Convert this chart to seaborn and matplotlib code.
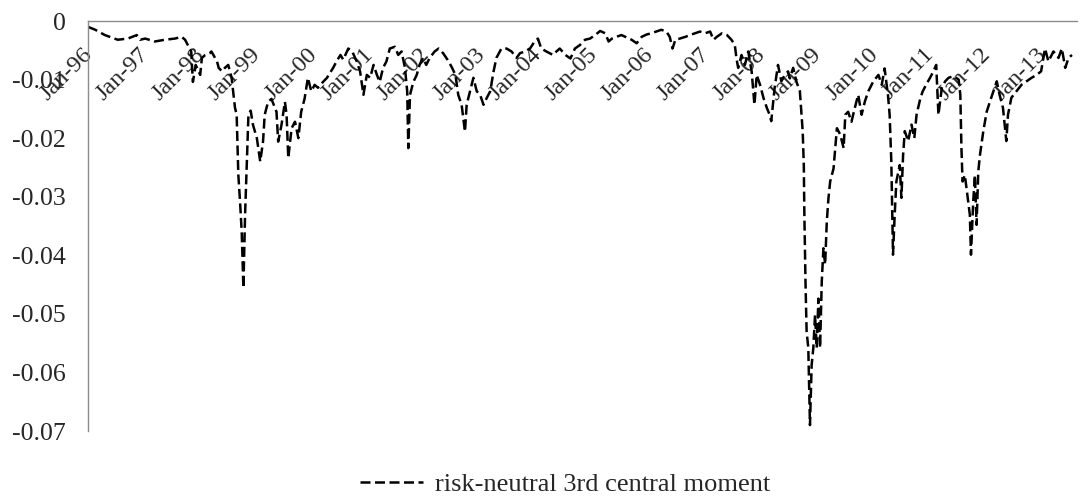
import matplotlib
matplotlib.use("Agg")
import matplotlib.pyplot as plt
import matplotlib.transforms as mtransforms
import seaborn as sns
import pandas as pd

# decimal year of each observation (1996.0 = Jan-96)
year_frac = [
    1996.00, 1996.13, 1996.30, 1996.53, 1996.71, 1996.87, 1996.93, 1997.02, 1997.19, 1997.37,
    1997.55, 1997.67, 1997.73, 1997.78, 1997.84, 1997.87, 1997.92, 1998.00, 1998.03, 1998.09,
    1998.17, 1998.20, 1998.30, 1998.33, 1998.39, 1998.44, 1998.50, 1998.56, 1998.62, 1998.65,
    1998.68, 1998.71, 1998.74, 1998.77, 1998.80, 1998.83, 1998.86, 1998.90, 1998.94, 1999.01,
    1999.07, 1999.12, 1999.15, 1999.21, 1999.27, 1999.36, 1999.39, 1999.45, 1999.51, 1999.54,
    1999.57, 1999.63, 1999.69, 1999.75, 1999.80, 1999.86, 1999.92, 1999.98, 2000.04, 2000.10,
    2000.14, 2000.26, 2000.37, 2000.43, 2000.50, 2000.55, 2000.64, 2000.71, 2000.79, 2000.85,
    2000.91, 2000.97, 2001.03, 2001.09, 2001.15, 2001.20, 2001.26, 2001.32, 2001.38, 2001.47,
    2001.53, 2001.59, 2001.65, 2001.69, 2001.71, 2001.74, 2001.80, 2001.86, 2001.91, 2001.97,
    2002.03, 2002.09, 2002.18, 2002.25, 2002.33, 2002.43, 2002.49, 2002.55, 2002.60, 2002.66,
    2002.72, 2002.75, 2002.81, 2002.87, 2002.93, 2002.99, 2003.05, 2003.11, 2003.17, 2003.23,
    2003.28, 2003.37, 2003.46, 2003.55, 2003.64, 2003.70, 2003.79, 2003.88, 2003.96, 2004.02,
    2004.08, 2004.17, 2004.29, 2004.35, 2004.41, 2004.51, 2004.60, 2004.68, 2004.77, 2004.86,
    2004.95, 2005.04, 2005.13, 2005.22, 2005.28, 2005.34, 2005.42, 2005.51, 2005.60, 2005.69,
    2005.78, 2005.87, 2005.96, 2006.04, 2006.13, 2006.22, 2006.31, 2006.37, 2006.42, 2006.47,
    2006.55, 2006.65, 2006.73, 2006.82, 2006.91, 2007.00, 2007.09, 2007.15, 2007.21, 2007.30,
    2007.39, 2007.47, 2007.53, 2007.56, 2007.59, 2007.62, 2007.65, 2007.71, 2007.77, 2007.83,
    2007.88, 2007.92, 2007.98, 2008.04, 2008.10, 2008.15, 2008.18, 2008.24, 2008.30, 2008.36,
    2008.42, 2008.48, 2008.51, 2008.57, 2008.63, 2008.69, 2008.72, 2008.74, 2008.76, 2008.77,
    2008.79, 2008.81, 2008.84, 2008.87, 2008.90, 2008.93, 2008.96, 2008.99, 2009.02, 2009.05,
    2009.08, 2009.11, 2009.14, 2009.17, 2009.20, 2009.23, 2009.26, 2009.29, 2009.32, 2009.35,
    2009.41, 2009.47, 2009.50, 2009.55, 2009.61, 2009.67, 2009.73, 2009.79, 2009.85, 2009.91,
    2010.00, 2010.09, 2010.15, 2010.20, 2010.26, 2010.29, 2010.32, 2010.35, 2010.38, 2010.41,
    2010.47, 2010.50, 2010.53, 2010.56, 2010.62, 2010.68, 2010.73, 2010.77, 2010.84, 2010.88,
    2010.94, 2011.01, 2011.07, 2011.12, 2011.16, 2011.22, 2011.28, 2011.34, 2011.43, 2011.52,
    2011.55, 2011.57, 2011.59, 2011.63, 2011.66, 2011.72, 2011.74, 2011.78, 2011.81, 2011.84,
    2011.87, 2011.90, 2011.96, 2012.02, 2012.08, 2012.14, 2012.20, 2012.25, 2012.31, 2012.37,
    2012.40, 2012.46, 2012.55, 2012.64, 2012.73, 2012.82, 2012.91, 2012.99, 2013.06, 2013.12,
    2013.21, 2013.30, 2013.36, 2013.42, 2013.48, 2013.54,
]

third_moment = [
    -0.0010, -0.0015, -0.0024, -0.0032, -0.0030, -0.0024, -0.0032, -0.0030, -0.0035, -0.0032,
    -0.0030, -0.0027, -0.0032, -0.0041, -0.0052, -0.0104, -0.0075, -0.0092, -0.0063, -0.0058,
    -0.0055, -0.0052, -0.0069, -0.0080, -0.0086, -0.0080, -0.0075, -0.0097, -0.0148, -0.0160,
    -0.0263, -0.0308, -0.0360, -0.0456, -0.0331, -0.0246, -0.0160, -0.0153, -0.0177, -0.0200,
    -0.0240, -0.0206, -0.0160, -0.0138, -0.0133, -0.0155, -0.0206, -0.0177, -0.0138, -0.0160,
    -0.0234, -0.0183, -0.0172, -0.0200, -0.0155, -0.0133, -0.0097, -0.0120, -0.0109, -0.0114,
    -0.0109, -0.0097, -0.0080, -0.0069, -0.0058, -0.0066, -0.0047, -0.0052, -0.0069, -0.0086,
    -0.0126, -0.0092, -0.0097, -0.0075, -0.0092, -0.0104, -0.0080, -0.0069, -0.0047, -0.0044,
    -0.0058, -0.0052, -0.0080, -0.0120, -0.0217, -0.0126, -0.0104, -0.0092, -0.0075, -0.0063,
    -0.0075, -0.0063, -0.0052, -0.0047, -0.0055, -0.0069, -0.0080, -0.0092, -0.0126, -0.0143,
    -0.0189, -0.0143, -0.0120, -0.0097, -0.0120, -0.0126, -0.0143, -0.0131, -0.0120, -0.0086,
    -0.0063, -0.0047, -0.0047, -0.0052, -0.0063, -0.0055, -0.0052, -0.0047, -0.0035, -0.0030,
    -0.0047, -0.0052, -0.0058, -0.0052, -0.0047, -0.0058, -0.0064, -0.0047, -0.0041, -0.0032,
    -0.0030, -0.0024, -0.0017, -0.0021, -0.0035, -0.0030, -0.0027, -0.0024, -0.0028, -0.0032,
    -0.0038, -0.0027, -0.0023, -0.0021, -0.0018, -0.0015, -0.0018, -0.0027, -0.0047, -0.0032,
    -0.0030, -0.0027, -0.0024, -0.0021, -0.0018, -0.0021, -0.0018, -0.0032, -0.0027, -0.0021,
    -0.0024, -0.0032, -0.0041, -0.0064, -0.0080, -0.0069, -0.0058, -0.0075, -0.0052, -0.0086,
    -0.0143, -0.0092, -0.0109, -0.0131, -0.0148, -0.0160, -0.0171, -0.0114, -0.0075, -0.0103,
    -0.0092, -0.0086, -0.0098, -0.0080, -0.0104, -0.0120, -0.0160, -0.0188, -0.0246, -0.0331,
    -0.0445, -0.0530, -0.0558, -0.0690, -0.0587, -0.0558, -0.0502, -0.0558, -0.0474, -0.0558,
    -0.0445, -0.0388, -0.0416, -0.0342, -0.0302, -0.0274, -0.0263, -0.0252, -0.0217, -0.0183,
    -0.0194, -0.0217, -0.0160, -0.0155, -0.0172, -0.0148, -0.0126, -0.0160, -0.0137, -0.0120,
    -0.0103, -0.0092, -0.0109, -0.0081, -0.0126, -0.0160, -0.0240, -0.0399, -0.0331, -0.0274,
    -0.0246, -0.0302, -0.0229, -0.0188, -0.0205, -0.0177, -0.0200, -0.0160, -0.0131, -0.0120,
    -0.0109, -0.0097, -0.0086, -0.0075, -0.0160, -0.0114, -0.0103, -0.0097, -0.0094, -0.0100,
    -0.0126, -0.0217, -0.0274, -0.0263, -0.0285, -0.0331, -0.0399, -0.0308, -0.0263, -0.0348,
    -0.0257, -0.0229, -0.0188, -0.0155, -0.0137, -0.0120, -0.0103, -0.0126, -0.0148, -0.0205,
    -0.0160, -0.0131, -0.0120, -0.0109, -0.0103, -0.0097, -0.0092, -0.0086, -0.0047, -0.0069,
    -0.0052, -0.0063, -0.0047, -0.0080, -0.0063, -0.0058,
]

tick_years = list(range(1996, 2014))
tick_labels = ["Jan-%02d" % (y % 100) for y in tick_years]
y_ticks = [0, -0.01, -0.02, -0.03, -0.04, -0.05, -0.06, -0.07]
y_labels = ["0", "-0.01", "-0.02", "-0.03", "-0.04", "-0.05", "-0.06", "-0.07"]
series_name = "risk-neutral 3rd central moment"

df = pd.DataFrame({"year": year_frac, "value": third_moment})

sns.set_theme(style="white")
plt.rcParams["font.family"] = ["Liberation Serif", "DejaVu Serif"]

fig = plt.figure(figsize=(10.86, 5.0), dpi=100)
ax = fig.add_axes([88 / 1086, 1 - 431 / 500, (1077 - 88) / 1086, (431 - 21) / 500])

sns.lineplot(data=df, x="year", y="value", ax=ax, color="black", linewidth=1.8,
             label=series_name, legend=False)
line = ax.get_lines()[0]
line.set_dashes((4.0, 1.8))

ax.set_xlim(1996.0, 2013.63)
ax.set_ylim(-0.07, 0.0)

ax.spines["bottom"].set_position(("data", 0))
for s in ["top", "right"]:
    ax.spines[s].set_visible(False)
ax.spines["bottom"].set_color("#8c8c8c")
ax.spines["left"].set_color("#8c8c8c")
ax.spines["bottom"].set_linewidth(1.0)
ax.spines["left"].set_linewidth(1.0)

ax.set_yticks(y_ticks)
ax.set_yticklabels(y_labels, fontsize=18.5)
ax.set_xticks(tick_years)
ax.set_xticklabels(tick_labels, fontsize=17.5, rotation=45, ha="right",
                   va="top", rotation_mode="anchor")
ax.tick_params(axis="both", length=0)
ax.tick_params(axis="y", pad=16)
ax.tick_params(axis="x", pad=16.5)
offset = mtransforms.ScaledTranslation(-6 / 100, 0, fig.dpi_scale_trans)
for lab in ax.get_xticklabels():
    lab.set_transform(lab.get_transform() + offset)
ax.set_xlabel("")
ax.set_ylabel("")
ax.grid(False)

handles, labels = ax.get_legend_handles_labels()
leg = fig.legend(handles, labels, loc="center", bbox_to_anchor=(565 / 1086, 1 - 484 / 500),
                 frameon=False, fontsize=19, handlelength=2.4, handletextpad=0.42)

fig.savefig("out.png", dpi=100)
